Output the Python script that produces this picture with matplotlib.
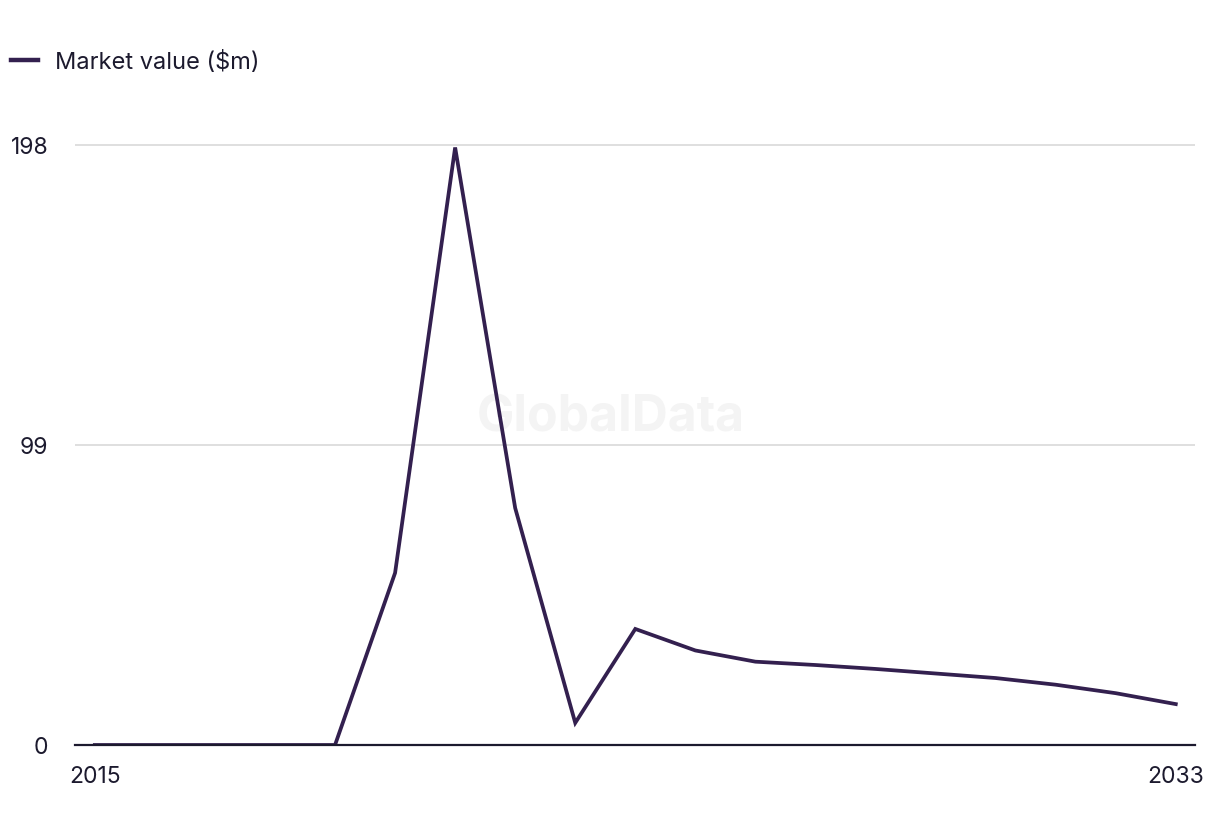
import matplotlib.pyplot as plt
from matplotlib.lines import Line2D

years = list(range(2015, 2034))
market_value = [0, 0, 0, 0, 0, 56.8, 197.2, 78.2, 7.3, 38.3, 31.2,
                27.5, 26.4, 25.1, 23.6, 22.1, 19.9, 17.1, 13.5]
y_ticks = [0, 99, 198]
x_ticks = [2015, 2033]

line_color = '#33204f'
text_color = '#1c1a2e'

plt.rcParams['font.family'] = ['Inter', 'DejaVu Sans']

fig = plt.figure(figsize=(12.2, 8.36), dpi=100)
ax = fig.add_axes([75 / 1220, 1 - 745 / 836, 1120 / 1220, 606 / 836])

ax.plot(years, market_value, color=line_color, linewidth=2.7,
        solid_joinstyle='miter', zorder=3)

ax.set_xlim(2014.67, 2033.32)
ax.set_ylim(0, 200)
ax.set_yticks(y_ticks)
ax.set_yticklabels([str(v) for v in y_ticks])
ax.set_xticks(x_ticks)
ax.set_xticklabels([str(v) for v in x_ticks])

ax.grid(axis='y', color='#d9d9d9', linewidth=1.2)
ax.set_axisbelow(True)
for side in ['top', 'right', 'left']:
    ax.spines[side].set_visible(False)
ax.spines['bottom'].set_color(text_color)
ax.spines['bottom'].set_linewidth(1.6)
ax.spines['bottom'].set_zorder(4)

ax.tick_params(axis='both', length=0, labelsize=16.5, labelcolor=text_color)
ax.tick_params(axis='y', pad=19)
ax.tick_params(axis='x', pad=15)

ax.text(0.478, 0.54, 'GlobalData', transform=ax.transAxes, ha='center',
        va='center', fontsize=36, fontweight='bold', color='#f4f4f4', zorder=1)

handle = Line2D([], [], color=line_color, linewidth=3.2)
fig.legend([handle], ['Market value ($m)'], loc='center left',
           bbox_to_anchor=(0.0, 1 - 62 / 836), frameon=False, fontsize=17,
           handlelength=1.15, handletextpad=0.75, labelcolor=text_color,
           borderaxespad=0.05)

fig.savefig('out.png', dpi=100)
